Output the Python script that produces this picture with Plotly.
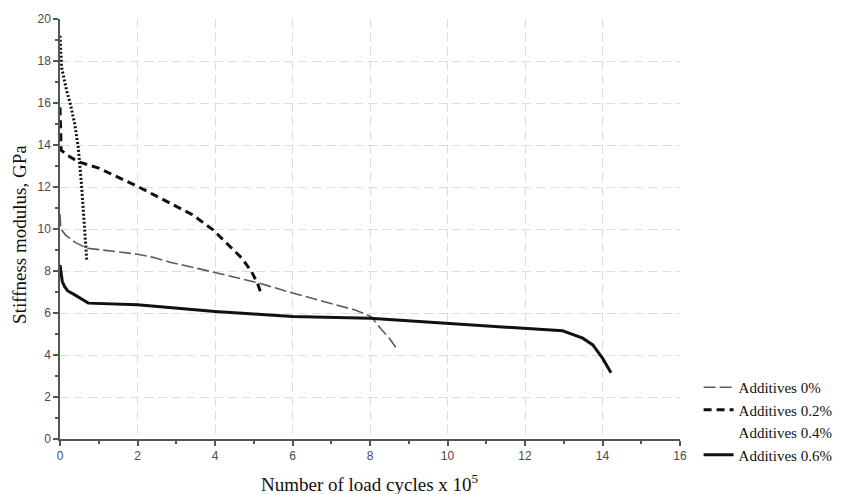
import plotly.graph_objects as go

# Data (x: load cycles x 10^5, y: stiffness modulus GPa)
x_add00 = [0.0, 0.02, 0.15, 0.4, 0.69, 1.2, 2.0, 2.4, 2.84, 3.6, 4.38, 5.15, 6.0, 7.04, 7.6, 8.03, 8.3, 8.5, 8.68]
y_add00 = [10.7, 10.0, 9.7, 9.35, 9.09, 8.98, 8.8, 8.65, 8.42, 8.1, 7.74, 7.42, 6.95, 6.43, 6.15, 5.83, 5.2, 4.8, 4.32]

x_add02 = [0.0, 0.01, 0.03, 0.2, 0.47, 1.0, 2.0, 2.84, 3.4, 3.95, 4.38, 4.7, 4.94, 5.1, 5.2]
y_add02 = [15.8, 14.3, 13.75, 13.5, 13.2, 12.9, 12.03, 11.23, 10.7, 9.96, 9.17, 8.6, 7.98, 7.4, 6.86]

x_add04 = [0.0, 0.04, 0.17, 0.26, 0.38, 0.47, 0.56, 0.62, 0.69]
y_add04 = [19.2, 17.7, 16.6, 16.0, 15.0, 13.9, 12.0, 10.2, 8.53]

x_add06 = [0.0, 0.02, 0.06, 0.12, 0.2, 0.35, 0.52, 0.73, 2.0, 3.0, 4.0, 5.0, 6.0, 8.0, 10.0, 12.0, 12.97, 13.49, 13.75, 14.0, 14.22]
y_add06 = [8.29, 7.9, 7.5, 7.25, 7.05, 6.9, 6.7, 6.47, 6.39, 6.22, 6.07, 5.95, 5.83, 5.75, 5.51, 5.28, 5.15, 4.8, 4.48, 3.85, 3.16]

x_ticks = [0, 2, 4, 6, 8, 10, 12, 14, 16]
y_ticks = [0, 2, 4, 6, 8, 10, 12, 14, 16, 18, 20]

x_title = "Number of load cycles x 10<sup>5</sup>"
y_title = "Stiffness modulus, GPa"

fig = go.Figure()

fig.add_trace(go.Scatter(x=x_add00, y=y_add00, mode="lines", name="Additives 0%",
                         line=dict(color="#5a5a5a", width=1.6, dash="12px,4px")))
fig.add_trace(go.Scatter(x=x_add02, y=y_add02, mode="lines", name="Additives 0.2%",
                         line=dict(color="#111111", width=3, dash="8px,5px")))
fig.add_trace(go.Scatter(x=x_add04, y=y_add04, mode="lines", name="Additives 0.4%",
                         showlegend=False, legendgroup="a04",
                         line=dict(color="#111111", width=3, dash="2px,2px")))
# legend entry for 0.4% shows no line sample in the reference
fig.add_trace(go.Scatter(x=[None], y=[None], mode="lines", name="Additives 0.4%",
                         legendgroup="a04",
                         line=dict(color="rgba(0,0,0,0)", width=3)))
fig.add_trace(go.Scatter(x=x_add06, y=y_add06, mode="lines", name="Additives 0.6%",
                         line=dict(color="#111111", width=3)))

serif = "Liberation Serif, Times New Roman, serif"

axis_common = dict(
    showline=True, linecolor="#555555", linewidth=1.5,
    ticks="outside", ticklen=5, tickcolor="#555555", tickwidth=1.5,
    showgrid=True, gridcolor="#dcdcdc", gridwidth=1, griddash="9px,5px",
    zeroline=False, automargin=False,
    tickfont=dict(family="Liberation Sans, Arial, sans-serif", size=12, color="#4a4a4a"),
    minor=dict(ticks="outside", ticklen=3, tickcolor="#555555", dtick=1, showgrid=False),
)

fig.update_xaxes(range=[0, 16], tickvals=x_ticks, ticktext=[str(v) for v in x_ticks], **axis_common)
fig.update_yaxes(range=[0, 20], tickvals=y_ticks, ticktext=[str(v) for v in y_ticks], **axis_common)

fig.add_annotation(text=x_title, xref="paper", yref="paper", x=0.5, y=-0.105,
                   xanchor="center", yanchor="middle", showarrow=False,
                   font=dict(family=serif, size=19, color="#111111"))
fig.add_annotation(text=y_title, xref="paper", yref="paper", x=-0.0645, y=0.486,
                   xanchor="center", yanchor="middle", showarrow=False, textangle=-90,
                   font=dict(family=serif, size=19, color="#111111"))

fig.update_layout(
    width=857, height=494,
    margin=dict(l=60, r=177, t=19, b=55),
    paper_bgcolor="white", plot_bgcolor="white",
    legend=dict(x=1.03, y=0.162, xanchor="left", yanchor="top",
                font=dict(family=serif, size=15, color="#111111"),
                bgcolor="rgba(0,0,0,0)", tracegroupgap=0, itemwidth=30),
)

fig.write_html("out.html")
